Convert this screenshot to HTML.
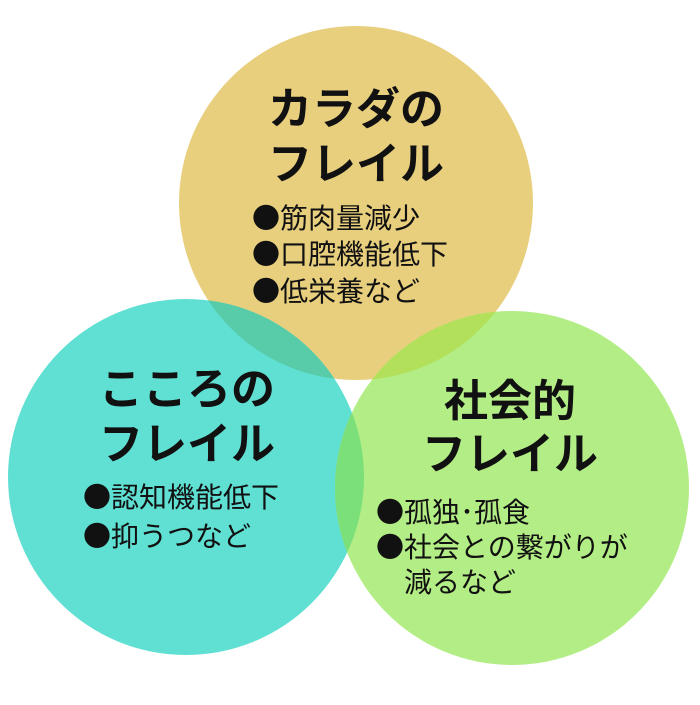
<!DOCTYPE html>
<html><head><meta charset="utf-8"><style>
body{margin:0;background:#fff;}
svg text{font-family:"Noto Sans CJK JP","Liberation Sans",sans-serif;fill:#111;}
.t{font-size:44px;font-weight:bold;}
.b{font-size:28px;}
</style></head><body>
<svg width="700" height="700" viewBox="0 0 700 700">
<defs>
<clipPath id="cT"><circle cx="356" cy="203" r="177"/></clipPath>
<clipPath id="cL"><circle cx="186" cy="477" r="178"/></clipPath>
</defs>
<circle cx="356" cy="203" r="177" fill="#e8cf7e"/>
<circle cx="186" cy="477" r="178" fill="#60dfd3"/>
<circle cx="512" cy="488" r="177" fill="#b3ed85"/>
<circle cx="186" cy="477" r="178" fill="#58cca8" clip-path="url(#cT)"/>
<circle cx="512" cy="488" r="177" fill="#b2e05a" clip-path="url(#cT)"/>
<circle cx="512" cy="488" r="177" fill="#7ce07a" clip-path="url(#cL)"/>
<text class="t" x="356" y="124" text-anchor="middle">カラダの</text>
<text class="t" x="356" y="179" text-anchor="middle">フレイル</text>
<text class="b" x="252" y="228">●筋肉量減少</text>
<text class="b" x="252" y="264">●口腔機能低下</text>
<text class="b" x="252" y="301">●低栄養など</text>
<text class="t" x="187" y="404" text-anchor="middle">こころの</text>
<text class="t" x="187" y="459" text-anchor="middle">フレイル</text>
<text class="b" x="83" y="507">●認知機能低下</text>
<text class="b" x="83" y="546">●抑うつなど</text>
<text class="t" x="510" y="416" text-anchor="middle">社会的</text>
<text class="t" x="510" y="469" text-anchor="middle">フレイル</text>
<text class="b" x="376" y="522">●孤独･孤食</text>
<text class="b" x="376" y="557">●社会との繋がりが</text>
<text class="b" x="404" y="592">減るなど</text>
</svg>
</body></html>
